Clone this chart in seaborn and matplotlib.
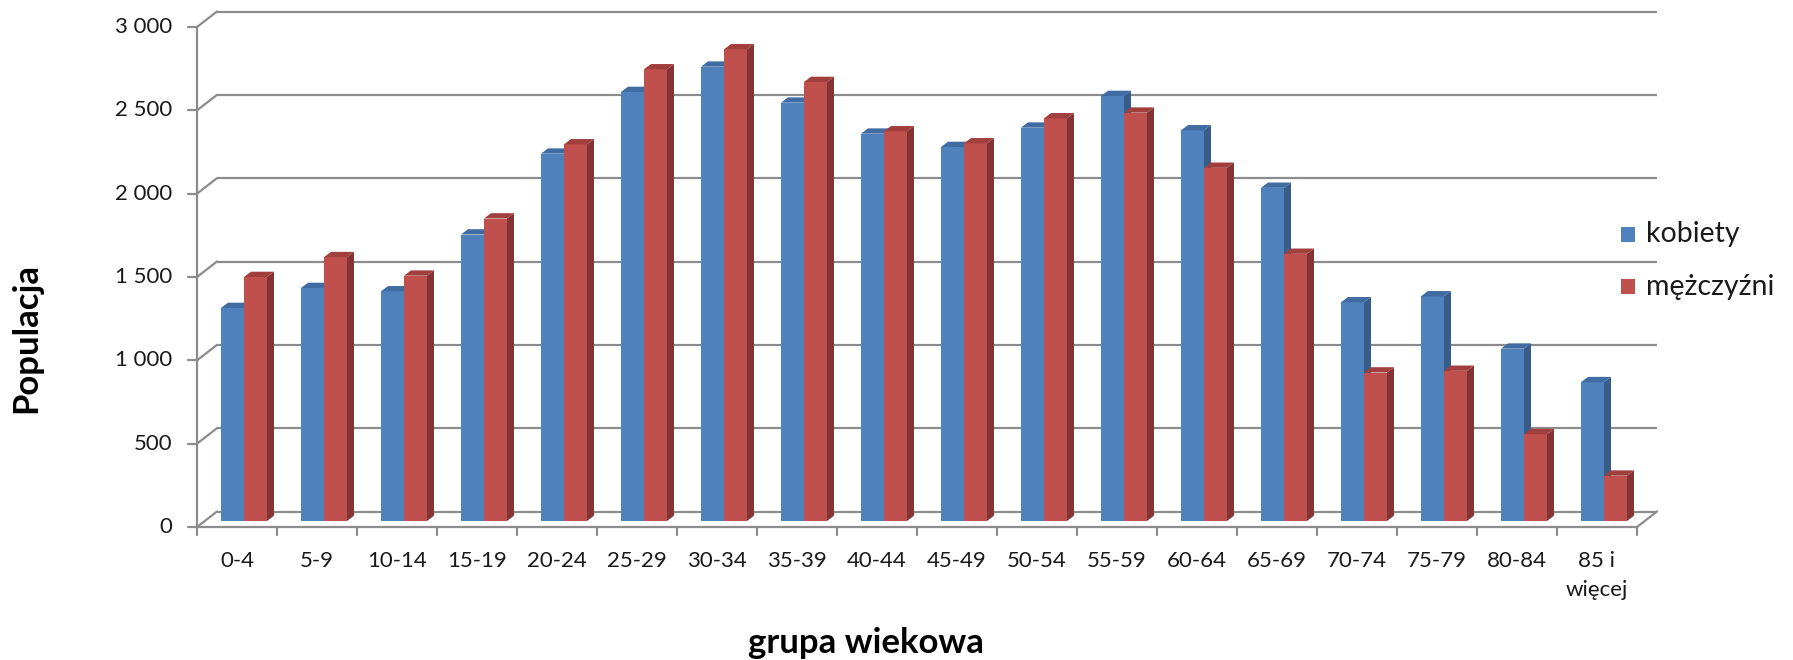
import numpy as np
import pandas as pd
import seaborn as sns
import matplotlib.pyplot as plt
import matplotlib.transforms as mtransforms
from matplotlib.patches import Polygon, Rectangle
from matplotlib.lines import Line2D

# ---- data ----
grupy = ["0-4", "5-9", "10-14", "15-19", "20-24", "25-29", "30-34", "35-39",
         "40-44", "45-49", "50-54", "55-59", "60-64", "65-69", "70-74", "75-79",
         "80-84", "85 i\nwięcej"]
kobiety = [1278, 1398, 1378, 1719, 2204, 2574, 2726, 2510, 2324, 2244, 2360,
           2550, 2344, 1999, 1312, 1348, 1034, 833]
mezczyzni = [1464, 1583, 1472, 1815, 2260, 2710, 2830, 2634, 2338, 2266, 2416,
             2450, 2119, 1603, 891, 901, 521, 272]
serie = ["kobiety", "mężczyźni"]
y_ticks = [0, 500, 1000, 1500, 2000, 2500, 3000]
y_labels = ["0", "500", "1 000", "1 500", "2 000", "2 500", "3 000"]
x_title = "grupa wiekowa"
y_title = "Populacja"

kolory = ["#4F81BD", "#C0504D"]
boki = ["#385D8A", "#843432"]
gory = ["#3F6CA3", "#A03F3C"]

df = pd.DataFrame({
    "grupa": grupy * 2,
    "populacja": kobiety + mezczyzni,
    "płeć": [serie[0]] * len(grupy) + [serie[1]] * len(grupy),
})

sns.set_theme(style="white")
plt.rcParams["font.family"] = ["Lato", "DejaVu Sans"]

W, H = 1793, 660
fig = plt.figure(figsize=(W / 100, H / 100), dpi=100)
fig.patch.set_facecolor("white")
ax = fig.add_axes([204 / W, 139 / H, 1440 / W, 500 / H])

sns.barplot(data=df, x="grupa", y="populacja", hue="płeć", order=grupy,
            hue_order=serie, palette=kolory, width=0.575, saturation=1,
            legend=False, ax=ax, linewidth=0, errorbar=None)
ax.set_xlim(-0.5, len(grupy) - 0.5)
ax.set_ylim(0, 3000)
ax.set_axis_off()

def off(dx, dy):
    return mtransforms.offset_copy(ax.transData, fig=fig, x=dx, y=dy, units="dots")

front = off(-7, -6)
back = off(13, 9.5)
grid_c = "#8c8c8c"
xmin, xmax = -0.5, len(grupy) - 0.5

def fig_line(p1, p2, **kw):
    inv = fig.transFigure.inverted()
    a = inv.transform(p1)
    b = inv.transform(p2)
    fig.add_artist(Line2D([a[0], b[0]], [a[1], b[1]], transform=fig.transFigure, **kw))

# back wall gridlines + diagonals
for v, lab in zip(y_ticks, y_labels):
    ax.plot([xmin, xmax], [v, v], transform=back, color=grid_c, lw=1.6,
            clip_on=False, zorder=0.5, solid_capstyle="butt")
    fig_line(front.transform((xmin, v)), back.transform((xmin, v)), color=grid_c, lw=1.6)
    p = front.transform((xmin, v))
    fig_line(p, (p[0] - 9, p[1]), color=grid_c, lw=1.6)
    ax.text(xmin, v, lab, transform=off(-7 - 25, -6), ha="right", va="center",
            fontsize=16, color="#1a1a1a")

# front axes
ax.plot([xmin, xmin], [0, 3000], transform=front, color=grid_c, lw=1.6, clip_on=False, zorder=5)
ax.plot([xmin, xmax], [0, 0], transform=front, color=grid_c, lw=1.6, clip_on=False, zorder=5)
fig_line(front.transform((xmax, 0)), back.transform((xmax, 0)), color=grid_c, lw=1.6)
for k in range(len(grupy) + 1):
    p = front.transform((k - 0.5, 0))
    fig_line(p, (p[0], p[1] - 8), color=grid_c, lw=1.6)

# category labels
for i, g in enumerate(grupy):
    ax.text(i, 0, g, transform=off(-7, -6 - 24), ha="center", va="top",
            fontsize=16, color="#1a1a1a", linespacing=1.55)

# 3D faces on bars
ddx = 7 / 80.0
ddy = 5.3 / (500 / 3000)
for j, cont in enumerate(ax.containers):
    for bar in cont:
        x0 = bar.get_x()
        w = bar.get_width()
        h = bar.get_height()
        x1 = x0 + w
        bar.set_zorder(2 + j)
        side = Polygon([(x1, 0), (x1, h), (x1 + ddx, h + ddy), (x1 + ddx, ddy)],
                       closed=True, facecolor=boki[j], edgecolor="none",
                       zorder=2.2 + j, clip_on=False)
        top = Polygon([(x0, h), (x1, h), (x1 + ddx, h + ddy), (x0 + ddx, h + ddy)],
                      closed=True, facecolor=gory[j], edgecolor="none",
                      zorder=2.3 + j, clip_on=False)
        ax.add_patch(side)
        ax.add_patch(top)

# legend
for j, (name, yc) in enumerate(zip(serie, [234.5, 286.5])):
    fig.add_artist(Rectangle(((1621) / W, 1 - (yc + 7.5) / H), 14 / W, 15 / H,
                             transform=fig.transFigure, facecolor=kolory[j],
                             edgecolor="none"))
    fig.text(1646 / W, 1 - yc / H, name, ha="left", va="center", fontsize=20.5,
             color="#1a1a1a")

# axis titles
fig.text(26 / W, 1 - 338 / H, y_title, rotation=90, ha="center", va="center",
         fontsize=25, fontweight="bold", color="#000000")
fig.text(866 / W, 1 - 653 / H, x_title, ha="center", va="baseline",
         fontsize=25, fontweight="bold", color="#000000")

fig.savefig("out.png", dpi=100, facecolor="white")
